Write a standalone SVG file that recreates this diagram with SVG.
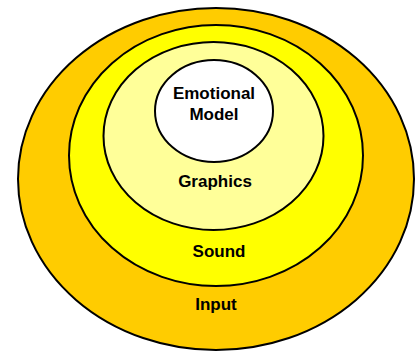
<svg xmlns="http://www.w3.org/2000/svg" width="417" height="352" viewBox="0 0 417 352">
<style>
.ring{stroke:#000;stroke-width:2}
.lbl{font-family:"Liberation Sans",Arial,sans-serif;font-weight:bold;font-size:17px;text-anchor:middle;fill:#000}
</style>
<rect width="417" height="352" fill="#fff"/>
<g id="input">
<ellipse class="ring" cx="216" cy="179" rx="198" ry="171" fill="#FFCC00"/>
<text class="lbl" x="216" y="310">Input</text>
</g>
<g id="sound">
<ellipse class="ring" cx="216" cy="155.5" rx="147" ry="130.5" fill="#FFFF00"/>
<text class="lbl" x="219" y="257">Sound</text>
</g>
<g id="graphics">
<ellipse class="ring" cx="213.5" cy="136" rx="110" ry="94" fill="#FFFF99"/>
<text class="lbl" x="215" y="187">Graphics</text>
</g>
<g id="emotional">
<ellipse class="ring" cx="214" cy="111" rx="59" ry="51" fill="#FFFFFF"/>
<text class="lbl" x="214" y="99">Emotional</text>
<text class="lbl" x="214" y="120">Model</text>
</g>
<g id="connectors"/>
</svg>
